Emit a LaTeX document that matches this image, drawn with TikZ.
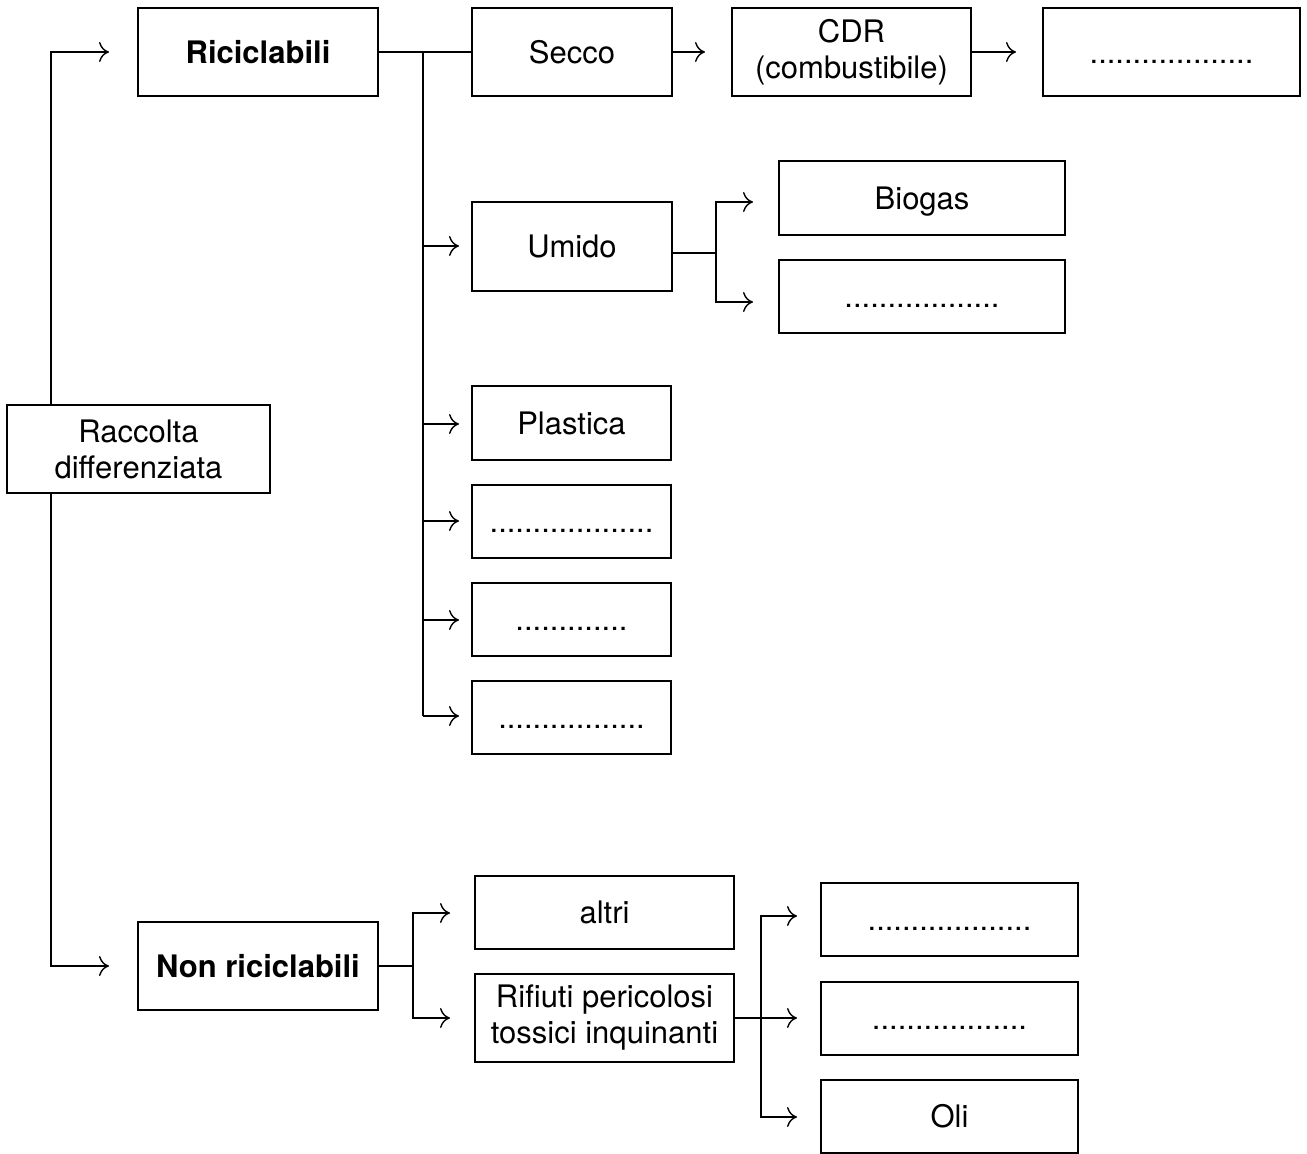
\documentclass[tikz,border=0pt]{standalone}
\usepackage{fontspec}
\setmainfont{TeX Gyre Heros}
\usetikzlibrary{arrows.meta}
\tikzset{
  box/.style={draw, line width=0.85pt, inner sep=0pt, align=center, font=\fontsize{15.5}{18}\selectfont},
  one/.style={text height=11.3pt, text depth=0pt},
  conn/.style={line width=0.7pt},
  arr/.style={line width=0.7pt, -{To[length=5pt,width=10pt]}},
}
\begin{document}
\begin{tikzpicture}[x=0.5pt,y=-0.5pt]
\useasboundingbox (0,0) rectangle (1307,1154);
% boxes
\node[box, minimum width=131.5pt, minimum height=44pt] (rac) at (138.5,449) {Raccolta\\differenziata};
\node[box, one, minimum width=120pt, minimum height=44pt] (ric) at (258,52) {\bfseries Riciclabili};
\node[box, one, minimum width=100pt, minimum height=44pt] (sec) at (572,52) {Secco};
\node[box, minimum width=119.5pt, minimum height=44pt] (cdr) at (851.5,52) {CDR\\(combustibile)};
\node[box, one, minimum width=128.5pt, minimum height=44pt] (d1) at (1171.5,52) {...................};
\node[box, one, minimum width=100pt, minimum height=44.5pt] (umi) at (572,246.5) {Umido};
\node[box, one, minimum width=143pt, minimum height=37pt] (bio) at (922,198) {Biogas};
\node[box, one, minimum width=143pt, minimum height=36.5pt] (d2) at (922,296.5) {..................};
\node[box, one, minimum width=99.5pt, minimum height=37pt] (pla) at (571.5,423) {Plastica};
\node[box, one, minimum width=99.5pt, minimum height=36.5pt] (d3) at (571.5,521.5) {...................};
\node[box, one, minimum width=99.5pt, minimum height=36.5pt] (d4) at (571.5,619.5) {.............};
\node[box, one, minimum width=99.5pt, minimum height=36.5pt] (d5) at (571.5,717.5) {.................};
\node[box, one, minimum width=120pt, minimum height=44pt] (non) at (258,966) {\bfseries Non riciclabili};
\node[box, one, minimum width=129.5pt, minimum height=36.5pt] (alt) at (604.5,912.5) {altri};
\node[box, minimum width=129.5pt, minimum height=44pt] (rif) at (604.5,1018) {Rifiuti pericolosi\\tossici inquinanti};
\node[box, one, minimum width=128.5pt, minimum height=36.5pt] (d6) at (949.5,919.5) {...................};
\node[box, one, minimum width=128.5pt, minimum height=36.5pt] (d7) at (949.5,1018.5) {..................};
\node[box, one, minimum width=128.5pt, minimum height=36.5pt] (oli) at (949.5,1116.5) {Oli};
% coordinates for free arrow ends
\coordinate (aRic) at (109,52);
\coordinate (aNon) at (109,966);
\coordinate (tr) at (423,52);
\coordinate (aUmi) at (459,246);
\coordinate (aPla) at (459,424);
\coordinate (aD3) at (459,521);
\coordinate (aD4) at (459,620);
\coordinate (aD5) at (459,716);
\coordinate (aCdr) at (705,52);
\coordinate (aD1) at (1016,52);
\coordinate (uj) at (716,253);
\coordinate (aBio) at (753,202);
\coordinate (aD2) at (753,302);
\coordinate (nj) at (413,966);
\coordinate (aAlt) at (450,913);
\coordinate (aRif) at (450,1018);
\coordinate (rj) at (761,1018);
\coordinate (aD6) at (797,916);
\coordinate (aD7) at (797,1018);
\coordinate (aOli) at (797,1117);
% connectors
\draw[arr] (rac.north -| 51,0) |- (aRic);
\draw[arr] (rac.south -| 51,0) |- (aNon);
\draw[conn] (ric.east) -- (sec.west);
\draw[conn] (tr) -- (tr |- aD5);
\foreach \t in {aUmi,aPla,aD3,aD4,aD5} \draw[arr] (tr |- \t) -- (\t);
\draw[arr] (sec.east) -- (aCdr);
\draw[arr] (cdr.east) -- (aD1);
\draw[conn] (umi.east |- uj) -- (uj);
\draw[arr] (uj) |- (aBio);
\draw[arr] (uj) |- (aD2);
\draw[conn] (non.east) -- (nj);
\draw[arr] (nj) |- (aAlt);
\draw[arr] (nj) |- (aRif);
\draw[conn] (rif.east) -- (rj);
\draw[arr] (rj) |- (aD6);
\draw[arr] (rj) -- (aD7);
\draw[arr] (rj) |- (aOli);
\end{tikzpicture}
\end{document}
